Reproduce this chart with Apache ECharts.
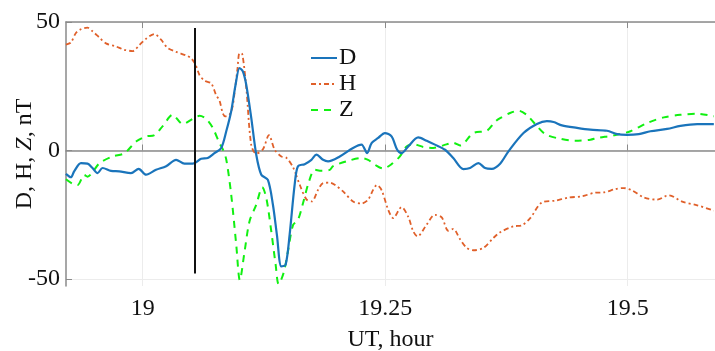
<!DOCTYPE html>
<html lang="en">
<head>
    <meta charset="UTF-8">
    <title>D, H, Z</title>
    <style>
        html, body { margin: 0; padding: 0; background: #fff; }
        #main { width: 715px; height: 351px; }
    </style>
</head>
<body>
<div id="main"></div>
<script src="https://cdn.jsdelivr.net/npm/echarts@6/dist/echarts.min.js"></script>
<script>
    const myChart = echarts.init(document.getElementById('main'));

    // UT hour, nT
    const dSeries = [
        [18.9209,-9.1],[18.9260,-10.4],[18.9294,-8.1],[18.9364,-4.9],[18.9432,-5.1],[18.9483,-6.8],
        [18.9535,-8.8],[18.9587,-6.8],[18.9674,-7.9],[18.9759,-8.1],[18.9880,-8.8],[18.9959,-7.1],
        [19.0035,-9.4],[19.0138,-7.5],[19.0242,-6.1],[19.0345,-3.6],[19.0431,-5.1],[19.0517,-5.1],
        [19.0603,-3.2],[19.0671,-2.9],[19.0741,-1.0],[19.0810,1.0],[19.0862,7.5],[19.0913,15.3],
        [19.0958,25.6],[19.0999,32.1],[19.1033,30.8],[19.1068,25.6],[19.1120,12.6],[19.1171,-1.6],
        [19.1223,-9.4],[19.1291,-11.4],[19.1343,-21.1],[19.1384,-32.8],[19.1430,-45.1],[19.1474,-44.4],
        [19.1515,-32.8],[19.1567,-13.3],[19.1601,-6.1],[19.1670,-5.3],[19.1740,-3.6],[19.1791,-1.6],
        [19.1860,-3.6],[19.1911,-4.2],[19.2032,-2.3],[19.2169,1.0],[19.2256,2.3],[19.2314,-1.0],
        [19.2360,2.9],[19.2428,4.9],[19.2497,6.8],[19.2566,5.5],[19.2624,0.3],[19.2669,-1.0],
        [19.2738,1.6],[19.2841,5.1],[19.2928,3.8],[19.3013,2.3],[19.3117,0.3],[19.3202,-2.9],
        [19.3306,-7.2],[19.3375,-6.8],[19.3461,-4.9],[19.3530,-6.8],[19.3599,-7.1],[19.3685,-5.1],
        [19.3771,-0.3],[19.3926,6.8],[19.4064,10.3],[19.4167,11.4],[19.4236,11.1],[19.4322,9.8],
        [19.4477,8.8],[19.4615,8.1],[19.4787,7.7],[19.4890,6.4],[19.4994,6.1],[19.5114,6.4],
        [19.5234,7.5],[19.5407,8.4],[19.5544,9.6],[19.5717,10.3],[19.5888,10.3]
    ];
    const hSeries = [
        [18.9209,41.2],[18.9260,42.0],[18.9312,45.7],[18.9364,47.2],[18.9432,47.8],[18.9483,46.4],
        [18.9553,44.0],[18.9622,41.7],[18.9725,40.5],[18.9811,39.2],[18.9897,38.7],[18.9966,41.0],
        [19.0035,43.5],[19.0121,45.3],[19.0190,43.1],[19.0255,40.0],[19.0345,38.4],[19.0448,37.0],
        [19.0500,35.9],[19.0544,33.5],[19.0586,29.4],[19.0637,27.2],[19.0707,26.1],[19.0758,21.5],
        [19.0792,19.5],[19.0826,14.5],[19.0854,13.3],[19.0896,14.0],[19.0927,17.0],[19.0947,22.3],
        [19.0978,32.0],[19.0999,37.9],[19.1027,37.5],[19.1068,24.5],[19.1120,2.0],[19.1171,-1.2],
        [19.1240,0.5],[19.1302,6.0],[19.1361,0.3],[19.1430,-2.3],[19.1481,-2.8],[19.1550,-6.5],
        [19.1619,-13.3],[19.1688,-19.0],[19.1743,-19.8],[19.1808,-15.3],[19.1860,-12.7],[19.1929,-12.5],
        [19.1980,-13.3],[19.2066,-15.9],[19.2169,-19.8],[19.2256,-20.6],[19.2324,-19.1],[19.2376,-15.3],
        [19.2414,-13.4],[19.2463,-15.4],[19.2531,-23.0],[19.2583,-26.3],[19.2669,-22.0],[19.2738,-25.8],
        [19.2789,-31.4],[19.2833,-33.4],[19.2928,-28.8],[19.3013,-25.0],[19.3083,-26.0],[19.3151,-31.2],
        [19.3202,-30.5],[19.3272,-34.5],[19.3341,-37.9],[19.3409,-38.8],[19.3512,-37.9],[19.3616,-34.0],
        [19.3685,-31.8],[19.3822,-29.5],[19.3909,-29.1],[19.3995,-26.3],[19.4116,-20.2],[19.4253,-19.5],
        [19.4390,-18.3],[19.4529,-17.8],[19.4666,-16.4],[19.4752,-16.3],[19.4873,-15.0],[19.4959,-14.6],
        [19.5045,-15.5],[19.5165,-18.2],[19.5304,-19.1],[19.5424,-17.4],[19.5562,-19.9],[19.5717,-21.3],
        [19.5888,-23.4]
    ];
    const zSeries = [
        [18.9209,-11.2],[18.9277,-12.9],[18.9329,-13.4],[18.9398,-9.5],[18.9432,-10.2],[18.9483,-8.5],
        [18.9553,-5.0],[18.9690,-2.3],[18.9811,-1.1],[18.9932,3.5],[19.0035,5.5],[19.0121,6.0],
        [19.0207,9.5],[19.0310,13.9],[19.0413,10.3],[19.0517,12.3],[19.0586,13.5],[19.0655,12.3],
        [19.0723,8.8],[19.0792,2.9],[19.0826,0.5],[19.0862,-3.5],[19.0913,-17.2],[19.0965,-36.7],
        [19.1002,-50.4],[19.1051,-39.2],[19.1102,-27.5],[19.1171,-21.1],[19.1233,-14.3],[19.1275,-18.5],
        [19.1326,-31.4],[19.1371,-44.4],[19.1402,-52.0],[19.1454,-47.5],[19.1498,-39.2],[19.1550,-29.0],
        [19.1601,-27.0],[19.1653,-20.5],[19.1715,-12.0],[19.1774,-7.5],[19.1843,-7.9],[19.1929,-7.5],
        [19.1963,-6.1],[19.2101,-4.2],[19.2256,-2.9],[19.2324,-3.6],[19.2394,-5.5],[19.2479,-7.0],
        [19.2566,-5.3],[19.2652,-2.3],[19.2721,1.6],[19.2789,2.5],[19.2893,1.4],[19.2996,1.0],
        [19.3099,2.0],[19.3202,3.0],[19.3272,2.0],[19.3409,6.8],[19.3548,7.7],[19.3633,11.2],
        [19.3685,12.6],[19.3788,14.6],[19.3874,15.5],[19.3961,13.8],[19.4046,10.3],[19.4150,6.4],
        [19.4287,4.7],[19.4460,3.8],[19.4615,4.2],[19.4684,4.9],[19.4855,5.9],[19.5028,7.5],
        [19.5200,10.7],[19.5372,12.9],[19.5544,13.9],[19.5717,14.3],[19.5888,13.3]
    ];
    // vertical marker: time, top, bottom
    const eventTime = 19.054;
    const eventRange = [47.7, -47.8];

    const xTicks = [19, 19.25, 19.5];
    const yTicks = [-50, 0, 50];
    const names = ['D', 'H', 'Z'];

    const font = '"Liberation Serif", "Times New Roman", Times, serif';
    const axisGrey = '#8a8a8a';

    const option = {
        animation: false,
        grid: { left: 66, top: 22, right: 0, bottom: 65, outerBoundsMode: 'none' },
        legend: {
            data: names,
            orient: 'vertical',
            left: 305,
            top: 41,
            itemWidth: 26,
            itemHeight: 14,
            itemGap: 2,
            itemStyle: { opacity: 0 },
            textStyle: { fontFamily: font, fontSize: 24, color: '#111', padding: [0, 0, 0, -3] }
        },
        xAxis: [{
            type: 'value',
            min: 18.921,
            max: 19.59,
            position: 'bottom',
            name: 'UT, hour',
            nameLocation: 'middle',
            nameGap: 42,
            nameMoveOverlap: false,
            nameTextStyle: { fontFamily: font, fontSize: 24, color: '#111' },
            axisLine: { lineStyle: { color: axisGrey, width: 1.5 } },
            axisTick: { inside: true, length: 6, customValues: xTicks, lineStyle: { color: axisGrey } },
            axisLabel: { customValues: xTicks, fontFamily: font, fontSize: 24, color: '#111', margin: 11 },
            splitLine: { show: true, lineStyle: { color: '#ececec' } }
        }, {
            type: 'value',
            min: 18.921,
            max: 19.59,
            position: 'top',
            axisLine: { show: true, lineStyle: { color: axisGrey, width: 1.5 } },
            axisTick: { inside: true, length: 6, customValues: xTicks, lineStyle: { color: axisGrey } },
            axisLabel: { show: false },
            splitLine: { show: false }
        }],
        yAxis: {
            type: 'value',
            min: -52.7,
            max: 50,
            name: '{a|D, H, }{b|Z}{a|, nT}',
            nameLocation: 'middle',
            nameGap: 29,
            nameMoveOverlap: false,
            nameTextStyle: {
                rich: {
                    a: { fontFamily: font, fontSize: 24, color: '#111' },
                    b: { fontFamily: font, fontSize: 24, color: '#111', fontStyle: 'italic' }
                }
            },
            axisLine: { show: true, lineStyle: { color: axisGrey, width: 1.5 } },
            axisTick: { show: true, inside: true, length: 6, customValues: yTicks, lineStyle: { color: axisGrey } },
            axisLabel: { customValues: yTicks, fontFamily: font, fontSize: 24, color: '#111', margin: 6 },
            splitLine: { show: true, lineStyle: { color: '#ececec' } }
        },
        series: [{
            name: 'D',
            type: 'line',
            data: dSeries,
            smooth: 0.3,
            showSymbol: false,
            symbol: 'none',
            z: 4,
            color: '#1a74bb',
            lineStyle: { color: '#1a74bb', width: 2.2 },
            markLine: {
                silent: true,
                symbol: ['none', 'none'],
                label: { show: false },
                lineStyle: { color: '#111', width: 2, type: 'solid' },
                data: [[{ coord: [eventTime, eventRange[0]] }, { coord: [eventTime, eventRange[1]] }]]
            }
        }, {
            name: 'H',
            type: 'line',
            data: hSeries,
            smooth: 0.3,
            showSymbol: false,
            symbol: 'none',
            z: 3,
            color: '#e0602a',
            lineStyle: { color: '#e0602a', width: 1.8, type: [5, 3, 2, 3] }
        }, {
            name: 'Z',
            type: 'line',
            data: zSeries,
            smooth: 0.3,
            showSymbol: false,
            symbol: 'none',
            z: 2,
            color: '#11f011',
            lineStyle: { color: '#11f011', width: 2, type: [7, 6] }
        }]
    };

    myChart.setOption(option);
</script>
</body>
</html>
